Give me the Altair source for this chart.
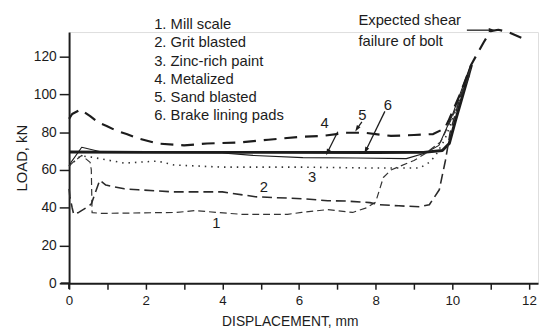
import altair as alt
import pandas as pd

# ---- data ----
c1_x = [0.0, 0.1, 0.33, 0.55, 0.58, 0.6, 0.85, 2.8, 3.3, 3.85, 4.5, 5.7, 6.07, 6.75, 7.4, 7.77, 8.0, 8.2, 8.4, 9.0, 9.3, 9.7, 10.0, 10.5]
c1_y = [62, 64, 67.7, 64, 60, 37.4, 37, 37.5, 38.5, 37.5, 36.5, 36.5, 37.5, 39, 37.5, 40, 43, 56, 60, 65, 68.7, 75, 88, 115]

c2_x = [0.0, 0.02, 0.08, 0.12, 0.25, 0.45, 0.58, 0.8, 0.96, 1.44, 1.8, 2.72, 4.0, 4.86, 6.15, 6.75, 7.25, 7.85, 8.1, 8.6, 9.15, 9.4, 9.66, 9.82, 9.95, 10.2, 10.5]
c2_y = [50, 46, 40, 36.5, 37.5, 40, 42, 54.5, 52, 50, 49.5, 48.4, 48.4, 45.8, 44.7, 43.7, 43.5, 42.7, 41.6, 41, 40.5, 41.6, 49.5, 65, 80.5, 98, 113]

c3_x = [0.0, 0.3, 0.58, 1.45, 2.3, 2.74, 4.0, 6.0, 8.0, 9.15, 9.4, 9.56, 9.8, 10.1, 10.45]
c3_y = [62, 67.5, 66.8, 63.6, 64.7, 62.6, 61.5, 61.5, 61, 61, 64, 67.5, 76, 92, 112]

c4_x = [0.0, 0.05, 0.33, 0.85, 2.0, 4.0, 4.8, 6.1, 7.5, 8.8, 9.3, 9.65, 10.0, 10.45]
c4_y = [62, 64, 72, 69.5, 69.3, 69, 67.7, 66.5, 66.3, 66, 69, 73, 89, 114]

c5_x = [0.0, 0.08, 0.3, 0.55, 0.77, 0.98, 1.24, 1.5, 1.75, 2.3, 3.0, 3.6, 4.4, 5.2, 6.07, 6.6, 7.25, 7.7, 8.4, 9.0, 9.5, 9.8, 9.9, 10.2, 10.5, 10.82, 11.0, 11.2, 11.46, 11.8]
c5_y = [87, 89.6, 92, 88.5, 85, 83.3, 80.7, 79, 77, 74, 73, 74, 74.5, 76, 77.6, 78, 79.7, 79.7, 78, 78.5, 79, 82, 86, 100, 116, 127.6, 133.5, 134.2, 133, 130]

c6_x = [0.0, 2.0, 5.0, 8.0, 9.25, 9.74, 9.92, 10.08, 10.5]
c6_y = [69.5, 69.3, 69.3, 69.2, 69.3, 70.3, 74, 86, 115.6]

legend_lines = ["1. Mill scale", "2. Grit blasted", "3. Zinc-rich paint",
                "4. Metalized", "5. Sand blasted", "6. Brake lining pads"]

curve_labels = ["1", "2", "3", "4", "5", "6"]
label_x = [3.84, 5.08, 6.34, 6.67, 7.65, 8.32]
label_y = [32, 51, 56.3, 85, 89, 94.4]

# arrows (start -> end, data units)
arr_x1 = [7.01, 7.64, 8.24, 10.38]
arr_y1 = [80.2, 85.5, 91.0, 134.0]
arr_x2 = [6.75, 7.52, 7.75, 11.02]
arr_y2 = [69.6, 82.0, 70.6, 134.0]
arr_ang = [204, 212, 206, 90]

FONT = "Liberation Sans"
INK = "#1c1c1c"

X_MAX = 476 / 38.9
Y_MAX = 133

xs = alt.Scale(domain=[0, X_MAX], nice=False, zero=False)
ys = alt.Scale(domain=[0, Y_MAX], nice=False)

x_axis = alt.Axis(values=list(range(0, 13)), labelExpr="datum.value % 2 == 0 ? datum.label : ''",
                  tickSize=6, tickWidth=1.5, domainWidth=2, domainColor=INK, tickColor=INK,
                  labelFont=FONT, labelFontSize=13.5, labelColor=INK, labelPadding=5,
                  title="DISPLACEMENT, mm", titleFont=FONT, titleFontSize=14, titleFontWeight="normal",
                  titleColor=INK, titleX=224, titlePadding=7, grid=False, labelFlush=False)
y_axis = alt.Axis(values=list(range(0, 121, 20)), tickSize=10, tickWidth=1.5, domainWidth=2,
                  domainColor=INK, tickColor=INK, labelFont=FONT, labelFontSize=14, labelColor=INK,
                  labelPadding=3, title="LOAD, kN", titleFont=FONT, titleFontSize=15,
                  titleFontWeight="normal", titleColor=INK, titlePadding=4, grid=False)


def X(field):
    return alt.X(field, scale=xs, axis=x_axis, title="DISPLACEMENT, mm")


def Y(field):
    return alt.Y(field, scale=ys, axis=y_axis, title="LOAD, kN")


def curve(xv, yv, width, dash=None, color=INK):
    df = pd.DataFrame({"x": xv, "y": yv, "o": range(len(xv))})
    kw = dict(strokeWidth=width, color=color, strokeCap="butt", interpolate="linear",
              strokeJoin="round")
    if dash:
        kw["strokeDash"] = dash
    return alt.Chart(df).mark_line(**kw).encode(x=X("x:Q"), y=Y("y:Q"), order="o:Q")

l6 = curve(c6_x, c6_y, 3.0)
l4 = curve(c4_x, c4_y, 1.1)
l3 = curve(c3_x, c3_y, 1.6, dash=[1.5, 5], color="#333333")
l1 = curve(c1_x, c1_y, 1.2, dash=[7, 4], color="#333333")
l2 = curve(c2_x, c2_y, 1.6, dash=[10, 5], color="#2a2a2a")
l5 = curve(c5_x, c5_y, 2.2, dash=[13, 8])

# small overhang of the axis lines at the origin
origin_df = pd.DataFrame({"x1": [-0.22, 0.0], "x2": [0.0, 0.0], "y1": [0.0, -3.0], "y2": [0.0, 0.0]})
origin = alt.Chart(origin_df).mark_rule(color=INK, strokeWidth=2).encode(
    x=X("x1:Q"), x2="x2:Q", y=Y("y1:Q"), y2="y2:Q")

leg_df = pd.DataFrame({"t": legend_lines, "i": range(len(legend_lines))})
legend = alt.Chart(leg_df).transform_calculate(
    yy="137.0 - 9.55 * datum.i", xx="2.22"
).mark_text(align="left", baseline="middle", font=FONT, fontSize=15, color=INK).encode(
    x=X("xx:Q"), y=Y("yy:Q"), text="t:N")

lab_df = pd.DataFrame({"t": curve_labels, "x": label_x, "y": label_y})
labels = alt.Chart(lab_df).mark_text(align="center", baseline="middle", font=FONT,
                                     fontSize=15, color=INK).encode(
    x=X("x:Q"), y=Y("y:Q"), text="t:N")

arr_df = pd.DataFrame({"x1": arr_x1, "y1": arr_y1, "x2": arr_x2, "y2": arr_y2, "a": arr_ang})
arr_lines = alt.Chart(arr_df).mark_rule(color=INK, strokeWidth=1.3).encode(
    x=X("x1:Q"), y=Y("y1:Q"), x2="x2:Q", y2="y2:Q")
arr_heads = alt.Chart(arr_df).mark_point(
    shape="M0,-1L0.55,0.7L-0.55,0.7Z", filled=True, opacity=1, color=INK, size=60
).encode(x=X("x2:Q"), y=Y("y2:Q"), angle=alt.Angle("a:Q", scale=None))

note_df = pd.DataFrame({"t": ["Expected shear", "failure of bolt"], "x": [7.55, 7.55], "y": [139.5, 128.0]})
note = alt.Chart(note_df).mark_text(align="left", baseline="middle", font=FONT, fontSize=15,
                                    color=INK).encode(
    x=X("x:Q"), y=Y("y:Q"), text="t:N")

chart = alt.layer(origin, l6, l4, l3, l1, l2, l5, legend, labels, arr_lines, arr_heads, note).properties(
    width=476, height=255,
    autosize=alt.AutoSizeParams(type="none"),
    padding={"left": 62, "top": 22, "right": 2, "bottom": 44},
).configure_view(strokeWidth=0).configure(background="white")

chart.save("out.html", embed_options={"renderer": "svg", "actions": False})
